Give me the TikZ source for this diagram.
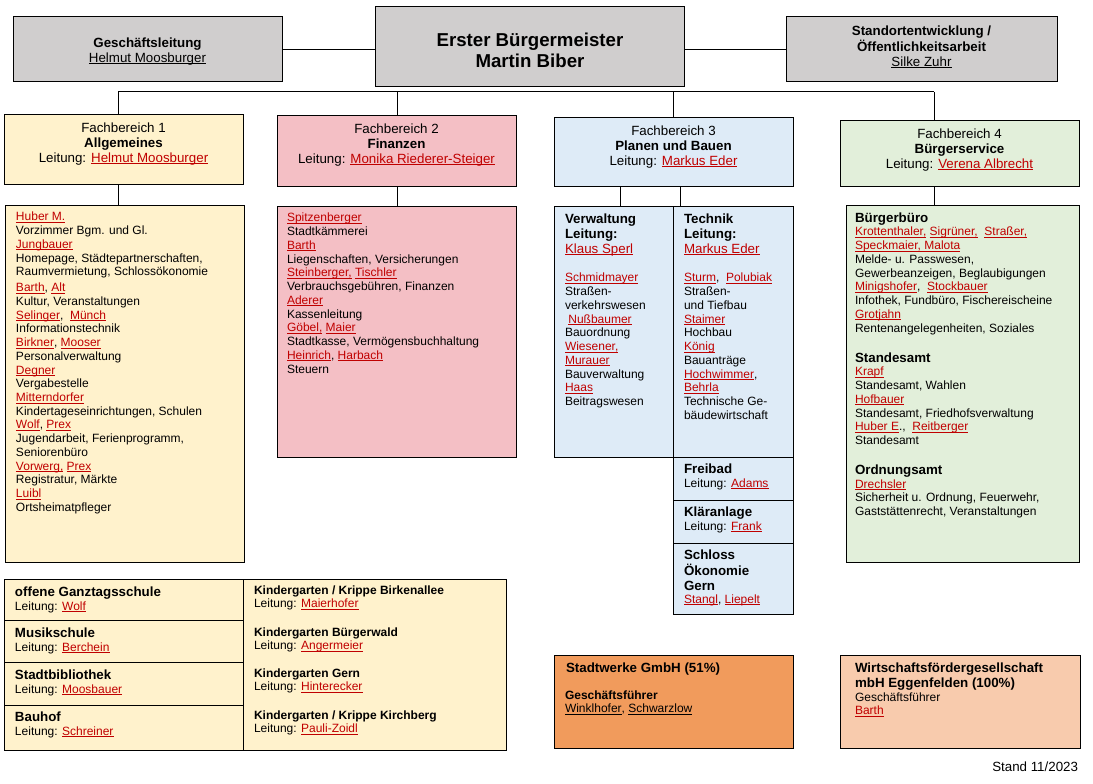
\documentclass[tikz,border=0pt]{standalone}
\usepackage{fontspec}
\setmainfont{Liberation Sans}
\usetikzlibrary{positioning}

\definecolor{grau}{HTML}{D0CECE}
\definecolor{fbgelb}{HTML}{FFF2CC}
\definecolor{fbrosa}{HTML}{F4BFC5}
\definecolor{fbblau}{HTML}{DEEBF7}
\definecolor{fbgruen}{HTML}{E2EFDA}
\definecolor{swora}{HTML}{F19B5C}
\definecolor{wfpfirsich}{HTML}{F8CBAD}
\definecolor{namerot}{HTML}{C00000}

\newcommand{\unter}[1]{\leavevmode\setbox0\hbox{#1}\rlap{\rule[-1.3pt]{\wd0}{0.55pt}}\box0}
\newcommand{\nm}[1]{\textcolor{namerot}{\unter{#1}}}
\newcommand{\fklein}{\fontsize{9}{10.3}\selectfont}
\newcommand{\fmittel}{\fontsize{10}{11.25}\selectfont}
% Zeilenblock, Grundlinie = erste Zeile
\newcommand{\zl}[1]{\begin{tabular}[t]{@{}l@{}}#1\end{tabular}}
\newcommand{\zc}[1]{\begin{tabular}[t]{@{}c@{}}#1\end{tabular}}

\begin{document}
\begin{tikzpicture}[x=0.75pt,y=-0.75pt,
    every node/.style={inner sep=0pt, outer sep=0pt},
    unit/.style={draw, line width=0.75pt, anchor=north west},
    liste/.style={anchor=base west, font=\fklein},
    kopf/.style={anchor=base west, font=\fmittel\bfseries},
    mitte/.style={anchor=base, font=\fmittel},
    link/.style={line width=0.75pt}]
\useasboundingbox (0,0) rectangle (1093,784);

% Leitungsebene
\node[unit, fill=grau, minimum width=201.75pt, minimum height=48.75pt] (gl) at (13,17) {};
\node[unit, fill=grau, minimum width=231.75pt, minimum height=60pt] (bgm) at (375,7) {};
\node[unit, fill=grau, minimum width=203.25pt, minimum height=48.75pt] (sto) at (786,17) {};
\node[mitte] (glt) at (147.5,47.5) {\zc{\textbf{Geschäftsleitung}\\\unter{Helmut Moosburger}}};
\node[mitte, font=\fontsize{14}{15.5}\selectfont\bfseries] (bgmt) at (530,46.5) {\zc{Erster Bürgermeister\\Martin Biber}};
\node[mitte] (stot) at (921.5,35.5) {\zc{\textbf{Standortentwicklung /}\\\textbf{Öffentlichkeitsarbeit}\\\unter{Silke Zuhr}}};
\draw[link] (gl.east) -- (gl.east -| bgm.west);
\draw[link] (sto.west -| bgm.east) -- (sto.west);

% Fachbereiche
\node[unit, fill=fbgelb, minimum width=179.25pt, minimum height=52.5pt] (fb1) at (4,115) {};
\node[unit, fill=fbrosa, minimum width=179.25pt, minimum height=53.25pt] (fb2) at (277,116) {};
\node[unit, fill=fbblau, minimum width=179.25pt, minimum height=51.75pt] (fb3) at (554,118) {};
\node[unit, fill=fbgruen, minimum width=179.25pt, minimum height=49.5pt] (fb4) at (840,121) {};
\node[mitte] (fb1t) at (123.5,132.5) {\zc{Fachbereich 1\\\textbf{Allgemeines}\\Leitung: \nm{Helmut Moosburger}}};
\node[mitte] (fb2t) at (396.5,133.5) {\zc{Fachbereich 2\\\textbf{Finanzen}\\Leitung: \nm{Monika Riederer-Steiger}}};
\node[mitte] (fb3t) at (673.5,135.5) {\zc{Fachbereich 3\\\textbf{Planen und Bauen}\\Leitung: \nm{Markus Eder}}};
\node[mitte] (fb4t) at (959.5,138.5) {\zc{Fachbereich 4\\\textbf{Bürgerservice}\\Leitung: \nm{Verena Albrecht}}};

% Sammelschiene
\coordinate (d1) at (118,92);
\coordinate (d2) at (397,92);
\coordinate (d3) at (673,92);
\coordinate (d4) at (934,92);
\coordinate (d3a) at (620,92);
\coordinate (d3b) at (680,92);
\draw[link] (d1) -- (d4);
\foreach \i in {1,2,3,4}
  \draw[link] (d\i) -- (d\i |- fb\i.north);

% Sachgebiete
\node[unit, fill=fbgelb, minimum width=179.25pt, minimum height=267pt] (l1) at (5,206) {};
\node[unit, fill=fbrosa, minimum width=179.25pt, minimum height=187.5pt] (l2) at (277,207) {};
\node[unit, fill=fbblau, minimum width=89.25pt, minimum height=187.5pt] (vw) at (554,207) {};
\node[unit, fill=fbblau, minimum width=90pt, minimum height=187.5pt] (tk) at (673,207) {};
\node[unit, fill=fbblau, minimum width=90pt, minimum height=32.25pt] (fr) at (673,457) {};
\node[unit, fill=fbblau, minimum width=90pt, minimum height=32.25pt] (kl) at (673,500) {};
\node[unit, fill=fbblau, minimum width=90pt, minimum height=53.25pt] (so) at (673,543) {};
\node[unit, fill=fbgruen, minimum width=174.75pt, minimum height=267pt] (l4) at (846,206) {};
\draw[link] (d1 |- fb1.south) -- (d1 |- l1.north);
\draw[link] (d2 |- fb2.south) -- (d2 |- l2.north);
\draw[link] (d3a |- fb3.south) -- (d3a |- vw.north);
\draw[link] (d3b |- fb3.south) -- (d3b |- tk.north);
\draw[link] (d4 |- fb4.south) -- (d4 |- l4.north);

\node[liste] (l1t) at (16,221) {\zl{\nm{Huber M.}\\Vorzimmer Bgm. und Gl.\\\nm{Jungbauer}\\Homepage, Städtepartnerschaften,\\Raumvermietung, Schlossökonomie\\[1.5pt]
  \nm{Barth}, \nm{Alt}\\Kultur, Veranstaltungen\\\nm{Selinger},\ \ \nm{Münch}\\Informationstechnik\\\nm{Birkner}, \nm{Mooser}\\Personalverwaltung\\
  \nm{Degner}\\Vergabestelle\\\nm{Mitterndorfer}\\Kindertageseinrichtungen, Schulen\\\nm{Wolf}, \nm{Prex}\\Jugendarbeit, Ferienprogramm,\\Seniorenbüro\\
  \nm{Vorwerg,} \nm{Prex}\\Registratur, Märkte\\\nm{Luibl}\\Ortsheimatpfleger}};
\node[liste] (l2t) at (287,222) {\zl{\nm{Spitzenberger}\\Stadtkämmerei\\\nm{Barth}\\Liegenschaften, Versicherungen\\\nm{Steinberger,} \nm{Tischler}\\Verbrauchsgebühren, Finanzen\\
  \nm{Aderer}\\Kassenleitung\\\nm{Göbel,} \nm{Maier}\\Stadtkasse, Vermögensbuchhaltung\\\nm{Heinrich}, \nm{Harbach}\\Steuern}};
\node[kopf] (vwk) at (565,223.5) {\zl{Verwaltung\\Leitung:\\\mdseries\nm{Klaus Sperl}}};
\node[liste] (vwt) at (565,282) {\zl{\nm{Schmidmayer}\\Straßen-\\verkehrswesen\\\hspace{2.5pt}\nm{Nußbaumer}\\Bauordnung\\\nm{Wiesener,}\\\nm{Murauer}\\Bauverwaltung\\\nm{Haas}\\Beitragswesen}};
\node[kopf] (tkk) at (684,223.5) {\zl{Technik\\Leitung:\\\mdseries\nm{Markus Eder}}};
\node[liste] (tkt) at (684,282) {\zl{\nm{Sturm},\ \ \nm{Polubiak}\\Straßen-\\und Tiefbau\\\nm{Staimer}\\Hochbau\\\nm{König}\\Bauanträge\\\nm{Hochwimmer},\\\nm{Behrla}\\Technische Ge-\\bäudewirtschaft}};
\node[kopf] (frk) at (684,473.5) {Freibad};
\node[liste] (frt) at (684,487) {Leitung: \nm{Adams}};
\node[kopf] (klk) at (684,516.5) {Kläranlage};
\node[liste] (klt) at (684,530) {Leitung: \nm{Frank}};
\node[kopf, font=\fontsize{10}{11.6}\selectfont\bfseries] (sok) at (684,559.5) {\zl{Schloss\\Ökonomie\\Gern}};
\node[liste] (sot) at (684,603) {\nm{Stangl}, \nm{Liepelt}};

\node[kopf] (bbk) at (855,222.5) {Bürgerbüro};
\node[liste] (bbt) at (855,236) {\zl{\nm{Krottenthaler,} \nm{Sigrüner,}\ \ \nm{Straßer,}\\\nm{Speckmaier, Malota}\\Melde- u. Passwesen,\\Gewerbeanzeigen, Beglaubigungen\\
  \nm{Minigshofer},\ \ \nm{Stockbauer}\\Infothek, Fundbüro, Fischereischeine\\\nm{Grotjahn}\\Rentenangelegenheiten, Soziales}};
\node[kopf] (sak) at (855,362.5) {Standesamt};
\node[liste] (sat) at (855,376) {\zl{\nm{Krapf}\\Standesamt, Wahlen\\\nm{Hofbauer}\\Standesamt, Friedhofsverwaltung\\\nm{Huber E}.,\ \ \nm{Reitberger}\\Standesamt}};
\node[kopf] (oak) at (855,474.5) {Ordnungsamt};
\node[liste] (oat) at (855,488) {\zl{\nm{Drechsler}\\Sicherheit u. Ordnung, Feuerwehr,\\Gaststättenrecht, Veranstaltungen}};

% Einrichtungen
\node[unit, fill=fbgelb, minimum width=179.25pt, minimum height=30.75pt] (og) at (4,579) {};
\node[unit, fill=fbgelb, minimum width=179.25pt, minimum height=31.5pt] (mu) at (4,620) {};
\node[unit, fill=fbgelb, minimum width=179.25pt, minimum height=32.25pt] (sb) at (4,662) {};
\node[unit, fill=fbgelb, minimum width=179.25pt, minimum height=33.75pt] (bh) at (4,705) {};
\node[unit, fill=fbgelb, minimum width=197.25pt, minimum height=128.25pt] (kg) at (243,579) {};
\node[kopf] (ogk) at (15,596.5) {offene Ganztagsschule};
\node[liste] (ogt) at (15,610) {Leitung: \nm{Wolf}};
\node[kopf] (muk) at (15,637.5) {Musikschule};
\node[liste] (mut) at (15,651) {Leitung: \nm{Berchein}};
\node[kopf] (sbk) at (15,679.5) {Stadtbibliothek};
\node[liste] (sbt) at (15,693) {Leitung: \nm{Moosbauer}};
\node[kopf] (bhk) at (15,721.5) {Bauhof};
\node[liste] (bht) at (15,735) {Leitung: \nm{Schreiner}};
\node[liste] (kg1) at (254,594) {\zl{\textbf{Kindergarten / Krippe Birkenallee}\\Leitung: \nm{Maierhofer}}};
\node[liste] (kg2) at (254,636) {\zl{\textbf{Kindergarten Bürgerwald}\\Leitung: \nm{Angermeier}}};
\node[liste] (kg3) at (254,677) {\zl{\textbf{Kindergarten Gern}\\Leitung: \nm{Hinterecker}}};
\node[liste] (kg4) at (254,719) {\zl{\textbf{Kindergarten / Krippe Kirchberg}\\Leitung: \nm{Pauli-Zoidl}}};

% Beteiligungen
\node[unit, fill=swora, minimum width=179.25pt, minimum height=69.75pt] (sw) at (554,655) {};
\node[unit, fill=wfpfirsich, minimum width=180pt, minimum height=69.75pt] (wf) at (840,655) {};
\node[kopf] (swk) at (566,672.5) {Stadtwerke GmbH (51\%)};
\node[liste] (swt) at (565,699) {\zl{\textbf{Geschäftsführer}\\\unter{Winklhofer}, \unter{Schwarzlow}}};
\node[kopf] (wfk) at (855,672.5) {\zl{Wirtschaftsfördergesellschaft\\mbH Eggenfelden (100\%)}};
\node[liste] (wft) at (855,701) {\zl{Geschäftsführer\\\nm{Barth}}};

\node[anchor=base east, font=\fmittel] (stand) at (1078,771) {Stand 11/2023};
\end{tikzpicture}
\end{document}
